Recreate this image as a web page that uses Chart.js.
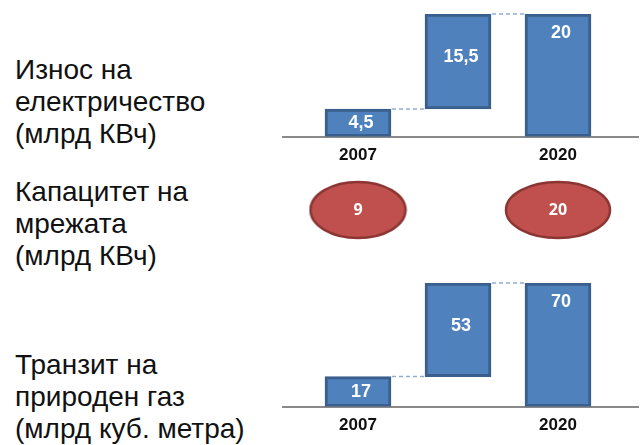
<!DOCTYPE html>
<html>
<head>
<meta charset="utf-8">
<script src="https://cdn.jsdelivr.net/npm/chart.js@4.4.0/dist/chart.umd.min.js"></script>
<style>
  body { margin: 0; background: #fff; width: 641px; height: 445px; position: relative; overflow: hidden; }
  .lbl { position: absolute; left: 15px; font-family: "Liberation Sans", Arial, sans-serif; font-size: 28px; line-height: 32px; color: #111; }
  .box { position: absolute; left: 280px; width: 361px; }
</style>
</head>
<body>
<div class="lbl" style="top:54px">Износ на<br>електричество<br>(млрд КВч)</div>
<div class="lbl" style="top:176px">Капацитет на<br>мрежата<br>(млрд КВч)</div>
<div class="lbl" style="top:349px">Транзит на<br>природен газ<br>(млрд куб. метра)</div>

<div class="box" style="top:0;height:181px"><canvas id="elecChart"></canvas></div>
<div class="box" style="top:170px;height:80px"><canvas id="gridChart"></canvas></div>
<div class="box" style="top:270px;height:186px"><canvas id="gasChart"></canvas></div>

<script>
// data
const years = ['2007', '2020'];
const elecStart = 4.5;
const elecGrowth = 15.5;
const elecEnd = 20;
const elecLabels = ['4,5', '15,5', '20'];
const gridValues = [9, 20];
const gasStart = 17;
const gasGrowth = 53;
const gasEnd = 70;
const gasLabels = ['17', '53', '70'];

const barPositions = [0, 1, 2];   // 2007, change, 2020
const tickYears = { 0: years[0], 2: years[1] };

const blueFill = '#4f81bd';
const blueBorder = '#3a5f8d';

// dashed connectors + labels inside bars
const waterfallPlugin = {
  id: 'waterfall',
  afterDatasetsDraw(chart, args, opts) {
    const ctx = chart.ctx;
    const bars = chart.getDatasetMeta(0).data;
    ctx.save();
    ctx.strokeStyle = '#8faed3';
    ctx.lineWidth = 1.5;
    ctx.setLineDash([4, 3]);
    for (let i = 0; i < bars.length - 1; i++) {
      const a = bars[i], b = bars[i + 1];
      const y = i === 0 ? a.y : b.y;
      ctx.beginPath();
      ctx.moveTo(a.x + a.width / 2 + 1, y);
      ctx.lineTo(b.x - b.width / 2 - 1, y);
      ctx.stroke();
    }
    ctx.setLineDash([]);
    ctx.fillStyle = '#fff';
    ctx.font = 'bold 18px "Liberation Sans", Arial, sans-serif';
    ctx.textAlign = 'center';
    ctx.textBaseline = 'middle';
    bars.forEach((bar, i) => {
      let y = (bar.y + bar.base) / 2;
      if (i === 1) y -= 4;
      if (i === bars.length - 1) y = bar.y + 19;
      ctx.fillText(opts.labels[i], bar.x + 3, y);
    });
    ctx.restore();
  }
};

function waterfall(id, start, growth, end, labels, padTop, padBottom) {
  const ctx = document.getElementById(id).getContext('2d');
  return new Chart(ctx, {
    type: 'bar',
    data: {
      datasets: [{
        data: [
          { x: barPositions[0], y: [0, start] },
          { x: barPositions[1], y: [start, start + growth] },
          { x: barPositions[2], y: [0, end] }
        ],
        backgroundColor: blueFill,
        borderColor: blueBorder,
        borderWidth: 3,
        borderSkipped: false,
        barThickness: 66
      }]
    },
    options: {
      responsive: true,
      maintainAspectRatio: false,
      animation: false,
      layout: { padding: { top: padTop, bottom: padBottom, left: 3, right: 3 } },
      scales: {
        x: {
          type: 'linear',
          offset: false,
          min: -0.75,
          max: 2.8,
          afterBuildTicks: (scale) => { scale.ticks = [{ value: 0 }, { value: 2 }]; },
          grid: { display: false, drawTicks: false },
          border: { display: true, color: '#8a8a8a', width: 2 },
          ticks: {
            padding: 9,
            color: '#111',
            font: { family: '"Liberation Sans", Arial, sans-serif', size: 17, weight: 'bold' },
            callback: (v) => tickYears[v] || ''
          }
        },
        y: {
          display: false,
          min: 0,
          max: end
        }
      },
      plugins: {
        legend: { display: false },
        tooltip: { enabled: false },
        waterfall: { labels: labels }
      }
    },
    plugins: [waterfallPlugin]
  });
}

const elecChart = waterfall('elecChart', elecStart, elecGrowth, elecEnd, elecLabels, 14, 6);
const gasChart = waterfall('gasChart', gasStart, gasGrowth, gasEnd, gasLabels, 13, 11);

// Capacity ellipses
function ellipseImage(w, h) {
  const c = document.createElement('canvas');
  c.width = w + 4;
  c.height = h + 4;
  const g = c.getContext('2d');
  g.beginPath();
  g.ellipse(c.width / 2, c.height / 2, w / 2, h / 2, 0, 0, Math.PI * 2);
  g.fillStyle = '#c0504d';
  g.fill();
  g.lineWidth = 2.5;
  g.strokeStyle = '#8c3634';
  g.stroke();
  return c;
}

const ellipseLabels = {
  id: 'ellipseLabels',
  afterDatasetsDraw(chart) {
    const ctx = chart.ctx;
    const pts = chart.getDatasetMeta(0).data;
    ctx.save();
    ctx.fillStyle = '#fff';
    ctx.font = 'bold 16px "Open Sans", Arial, sans-serif';
    ctx.textAlign = 'center';
    ctx.textBaseline = 'middle';
    pts.forEach((p, i) => ctx.fillText(String(gridValues[i]), p.x, p.y));
    ctx.restore();
  }
};

const gridCtx = document.getElementById('gridChart').getContext('2d');
const gridChart = new Chart(gridCtx, {
  type: 'scatter',
  data: {
    datasets: [{
      data: gridValues.map((v, i) => ({ x: barPositions[i * 2], y: 0.5 })),
      pointStyle: [ellipseImage(95, 56), ellipseImage(104, 56)],
      pointRadius: 40,
      clip: false
    }]
  },
  options: {
    responsive: true,
    maintainAspectRatio: false,
    animation: false,
    layout: { autoPadding: false, padding: { left: 3, right: 3 } },
    scales: {
      x: { type: 'linear', display: false, min: -0.75, max: 2.8 },
      y: { display: false, min: 0, max: 1 }
    },
    plugins: {
      legend: { display: false },
      tooltip: { enabled: false }
    }
  },
  plugins: [ellipseLabels]
});
</script>
</body>
</html>
